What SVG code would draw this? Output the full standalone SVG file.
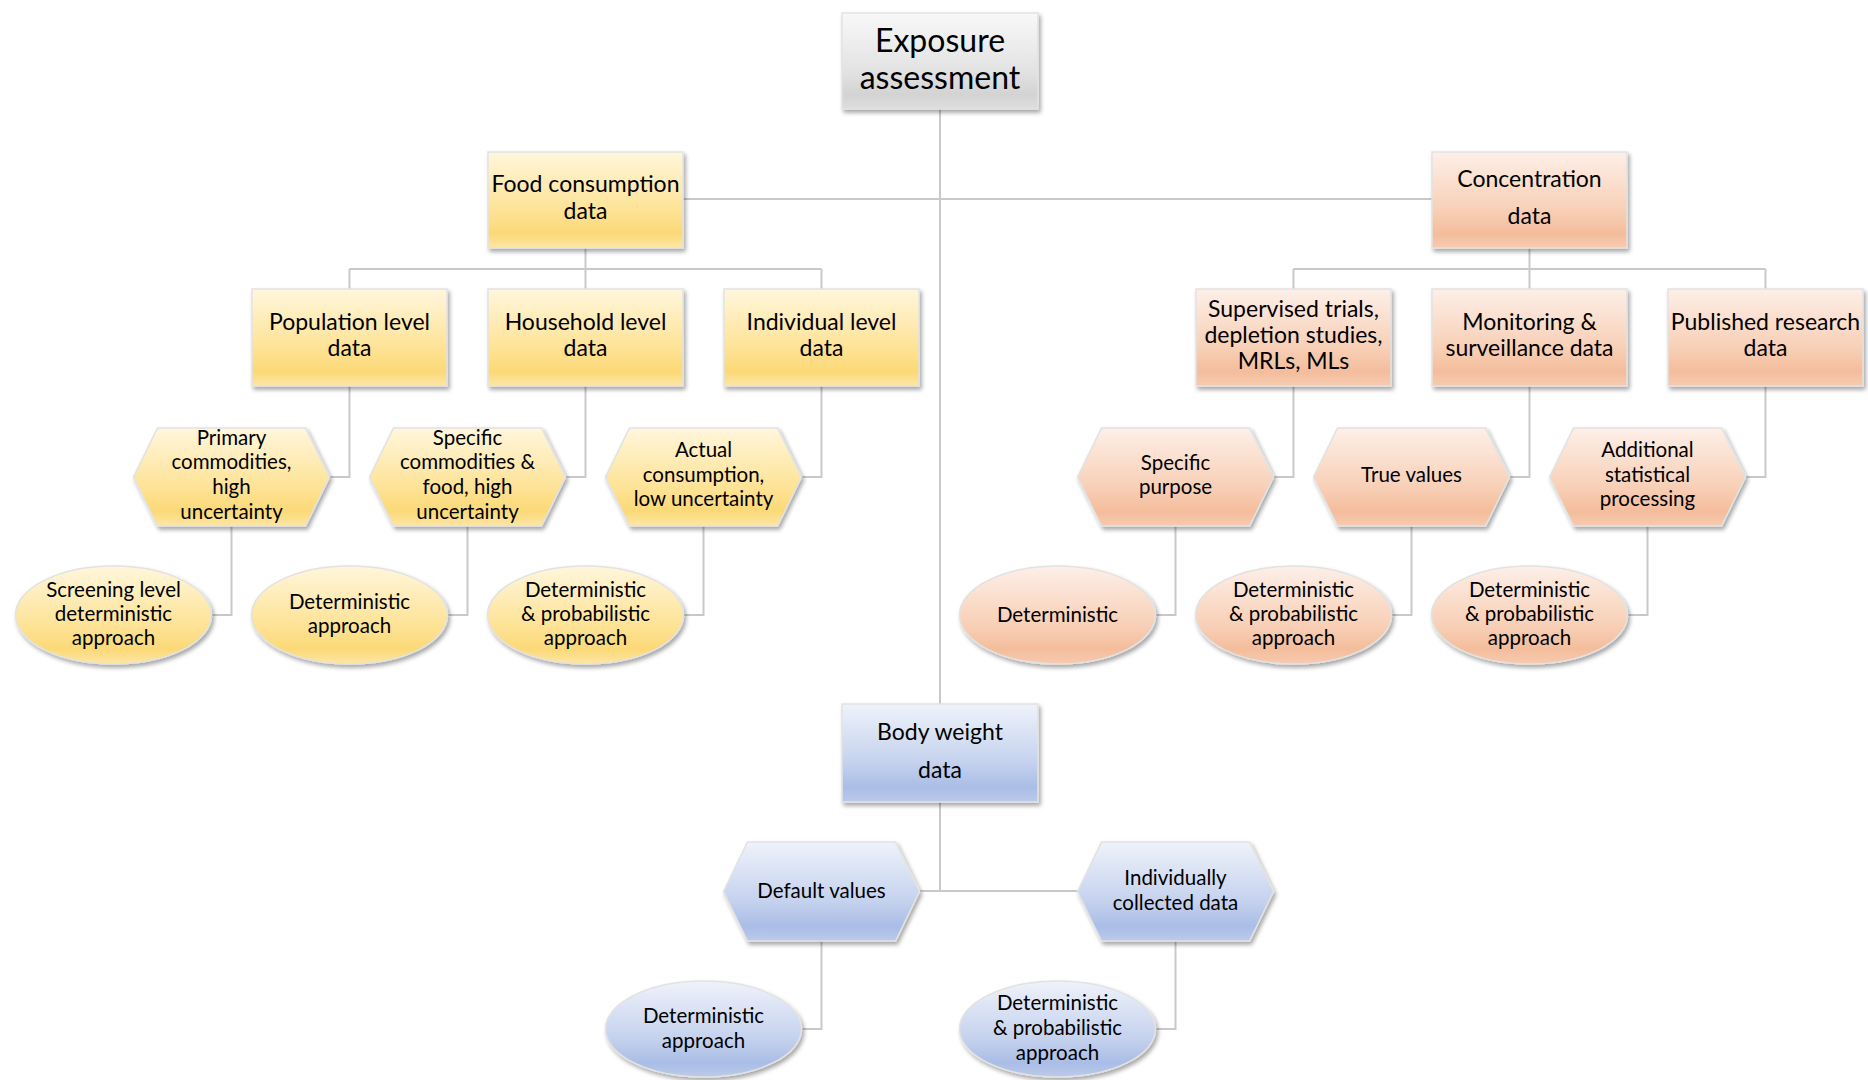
<svg xmlns="http://www.w3.org/2000/svg" width="1868" height="1080" viewBox="0 0 1868 1080">
<defs>
<linearGradient id="gGray" x1="0" y1="0" x2="0" y2="1">
<stop offset="0" stop-color="#f8f8f8"/><stop offset="0.6" stop-color="#e3e3e3"/><stop offset="0.85" stop-color="#d3d3d3"/><stop offset="1" stop-color="#dedede"/>
</linearGradient>
<linearGradient id="gYel" x1="0" y1="0" x2="0" y2="1">
<stop offset="0" stop-color="#fff6dc"/><stop offset="0.6" stop-color="#fee397"/><stop offset="0.85" stop-color="#fcd977"/><stop offset="1" stop-color="#fde6a6"/>
</linearGradient>
<linearGradient id="gOra" x1="0" y1="0" x2="0" y2="1">
<stop offset="0" stop-color="#fdefe8"/><stop offset="0.6" stop-color="#f8d0b7"/><stop offset="0.85" stop-color="#f4bd9c"/><stop offset="1" stop-color="#f7cab0"/>
</linearGradient>
<linearGradient id="gBlu" x1="0" y1="0" x2="0" y2="1">
<stop offset="0" stop-color="#eef2fa"/><stop offset="0.6" stop-color="#c5d2ee"/><stop offset="0.85" stop-color="#aabde6"/><stop offset="1" stop-color="#bccaea"/>
</linearGradient>
<filter id="sh" x="-10%" y="-10%" width="125%" height="130%">
<feDropShadow dx="2" dy="3" stdDeviation="2" flood-color="#000" flood-opacity="0.35"/>
</filter>
</defs>
<style>
.box{stroke:#e2e2e2;stroke-width:1.5;filter:url(#sh)}
.y{fill:url(#gYel)}
.o{fill:url(#gOra)}
.b{fill:url(#gBlu)}
.g{fill:url(#gGray)}
text{font-family:Lato,"Open Sans","Liberation Sans",sans-serif;fill:#000;text-anchor:middle}
.t1{font-size:32px}
.t2{font-size:23px}
.t3{font-size:20.5px}
.conn{fill:none;stroke:#c9c9c9;stroke-width:2}
</style>

<g id="connectors" class="conn">
<path d="M940 109V704"/>
<path d="M683 199H1432"/>
<path d="M585.5 248V269M349.5 269H821.5M349.5 269V289M585.5 269V289M821.5 269V289"/>
<path d="M1529.5 248V269M1293.5 269H1765.5M1293.5 269V289M1529.5 269V289M1765.5 269V289"/>
<path d="M349.5 386V477H330M585.5 386V477H566M821.5 386V477H802"/>
<path d="M1293.5 386V477H1274M1529.5 386V477H1510M1765.5 386V477H1746"/>
<path d="M231.5 526V615H211.5M467.5 526V615H447.5M703.5 526V615H683.5"/>
<path d="M1175.5 526V615H1155.5M1411.5 526V615H1391.5M1647.5 526V615H1627.5"/>
<path d="M940 802V891M920 891H1077"/>
<path d="M821.5 941V1029H802M1175.5 941V1029H1156"/>
</g>

<g id="exposure"><rect class="box g" x="842" y="13" width="196" height="96"/>
<text class="t1" x="940" y="52">Exposure</text><text class="t1" x="940" y="89">assessment</text></g>

<g id="food"><rect class="box y" x="488" y="152" width="195" height="96"/>
<text class="t2" x="585.5" y="192">Food consumption</text><text class="t2" x="585.5" y="219">data</text></g>
<g id="concentration"><rect class="box o" x="1432" y="152" width="195" height="96"/>
<text class="t2" x="1529.5" y="187">Concentration</text><text class="t2" x="1529.5" y="224">data</text></g>

<g id="population"><rect class="box y" x="252" y="289" width="195" height="97"/>
<text class="t2" x="349.5" y="330">Population level</text><text class="t2" x="349.5" y="356">data</text></g>
<g id="household"><rect class="box y" x="488" y="289" width="195" height="97"/>
<text class="t2" x="585.5" y="330">Household level</text><text class="t2" x="585.5" y="356">data</text></g>
<g id="individual"><rect class="box y" x="724" y="289" width="195" height="97"/>
<text class="t2" x="821.5" y="330">Individual level</text><text class="t2" x="821.5" y="356">data</text></g>
<g id="supervised"><rect class="box o" x="1196" y="289" width="195" height="97"/>
<text class="t2" x="1293.5" y="317">Supervised trials,</text><text class="t2" x="1293.5" y="343">depletion studies,</text><text class="t2" x="1293.5" y="369">MRLs, MLs</text></g>
<g id="monitoring"><rect class="box o" x="1432" y="289" width="195" height="97"/>
<text class="t2" x="1529.5" y="330">Monitoring &amp;</text><text class="t2" x="1529.5" y="356">surveillance data</text></g>
<g id="published"><rect class="box o" x="1668" y="289" width="195" height="97"/>
<text class="t2" x="1765.5" y="330">Published research</text><text class="t2" x="1765.5" y="356">data</text></g>

<g id="primary"><polygon class="box y" points="157.5,428 305.5,428 329.5,477 305.5,526 157.5,526 133.5,477"/>
<text class="t3" x="231.5" y="445">Primary</text><text class="t3" x="231.5" y="469">commodities,</text><text class="t3" x="231.5" y="494">high</text><text class="t3" x="231.5" y="519">uncertainty</text></g>
<g id="specific-commodities"><polygon class="box y" points="393.5,428 541.5,428 565.5,477 541.5,526 393.5,526 369.5,477"/>
<text class="t3" x="467.5" y="445">Specific</text><text class="t3" x="467.5" y="469">commodities &amp;</text><text class="t3" x="467.5" y="494">food, high</text><text class="t3" x="467.5" y="519">uncertainty</text></g>
<g id="actual"><polygon class="box y" points="629.5,428 777.5,428 801.5,477 777.5,526 629.5,526 605.5,477"/>
<text class="t3" x="703.5" y="457">Actual</text><text class="t3" x="703.5" y="482">consumption,</text><text class="t3" x="703.5" y="506">low uncertainty</text></g>
<g id="specific-purpose"><polygon class="box o" points="1101.5,428 1249.5,428 1273.5,477 1249.5,526 1101.5,526 1077.5,477"/>
<text class="t3" x="1175.5" y="470">Specific</text><text class="t3" x="1175.5" y="494">purpose</text></g>
<g id="true-values"><polygon class="box o" points="1337.5,428 1485.5,428 1509.5,477 1485.5,526 1337.5,526 1313.5,477"/>
<text class="t3" x="1411.5" y="482">True values</text></g>
<g id="additional"><polygon class="box o" points="1573.5,428 1721.5,428 1745.5,477 1721.5,526 1573.5,526 1549.5,477"/>
<text class="t3" x="1647.5" y="457">Additional</text><text class="t3" x="1647.5" y="482">statistical</text><text class="t3" x="1647.5" y="506">processing</text></g>

<g id="screening"><ellipse class="box y" cx="113.5" cy="615" rx="98" ry="49"/>
<text class="t3" x="113.5" y="597">Screening level</text><text class="t3" x="113.5" y="621">deterministic</text><text class="t3" x="113.5" y="645">approach</text></g>
<g id="det-approach-1"><ellipse class="box y" cx="349.5" cy="615" rx="98" ry="49"/>
<text class="t3" x="349.5" y="609">Deterministic</text><text class="t3" x="349.5" y="633">approach</text></g>
<g id="detprob-1"><ellipse class="box y" cx="585.5" cy="615" rx="98" ry="49"/>
<text class="t3" x="585.5" y="597">Deterministic</text><text class="t3" x="585.5" y="621">&amp; probabilistic</text><text class="t3" x="585.5" y="645">approach</text></g>
<g id="deterministic"><ellipse class="box o" cx="1057.5" cy="615" rx="98" ry="49"/>
<text class="t3" x="1057.5" y="622">Deterministic</text></g>
<g id="detprob-2"><ellipse class="box o" cx="1293.5" cy="615" rx="98" ry="49"/>
<text class="t3" x="1293.5" y="597">Deterministic</text><text class="t3" x="1293.5" y="621">&amp; probabilistic</text><text class="t3" x="1293.5" y="645">approach</text></g>
<g id="detprob-3"><ellipse class="box o" cx="1529.5" cy="615" rx="98" ry="49"/>
<text class="t3" x="1529.5" y="597">Deterministic</text><text class="t3" x="1529.5" y="621">&amp; probabilistic</text><text class="t3" x="1529.5" y="645">approach</text></g>

<g id="body-weight"><rect class="box b" x="842" y="704" width="196" height="98"/>
<text class="t2" x="940" y="740">Body weight</text><text class="t2" x="940" y="778">data</text></g>
<g id="default-values"><polygon class="box b" points="747.5,842 895.5,842 919.5,891.5 895.5,941 747.5,941 723.5,891.5"/>
<text class="t3" x="821.5" y="898">Default values</text></g>
<g id="individually"><polygon class="box b" points="1101.5,842 1249.5,842 1273.5,891.5 1249.5,941 1101.5,941 1077.5,891.5"/>
<text class="t3" x="1175.5" y="885">Individually</text><text class="t3" x="1175.5" y="910">collected data</text></g>
<g id="det-approach-2"><ellipse class="box b" cx="703.5" cy="1029" rx="98" ry="48"/>
<text class="t3" x="703.5" y="1023">Deterministic</text><text class="t3" x="703.5" y="1048">approach</text></g>
<g id="detprob-4"><ellipse class="box b" cx="1057.5" cy="1029" rx="98" ry="48"/>
<text class="t3" x="1057.5" y="1010">Deterministic</text><text class="t3" x="1057.5" y="1035">&amp; probabilistic</text><text class="t3" x="1057.5" y="1060">approach</text></g>
</svg>
